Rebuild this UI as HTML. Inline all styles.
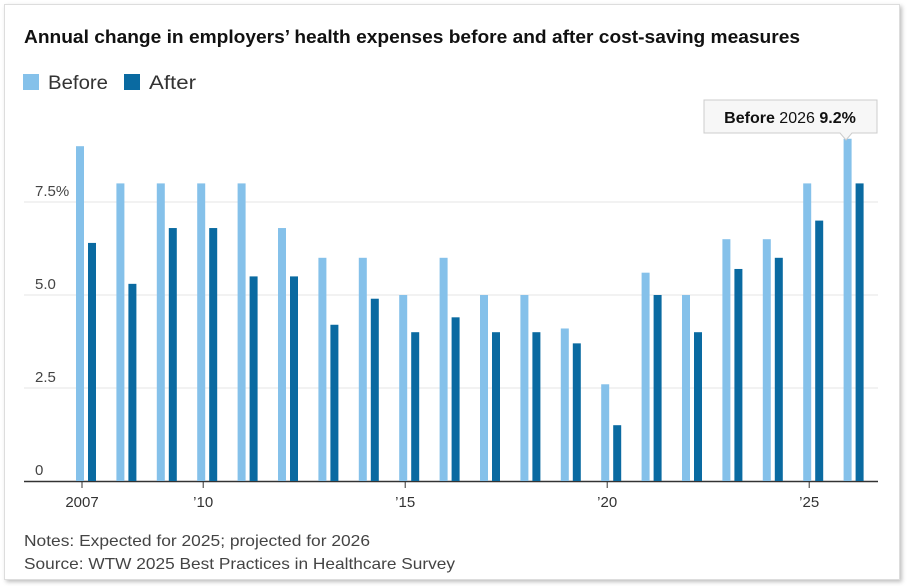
<!DOCTYPE html>
<html><head><meta charset="utf-8"><style>
body{margin:0;width:908px;height:586px;background:#fff;font-family:"Liberation Sans",sans-serif;overflow:hidden}
#frame{position:absolute;left:4px;top:4px;width:894px;height:574px;border:1px solid #ddd;box-shadow:2px 2px 4px rgba(0,0,0,.25);background:#fff}
</style></head><body>
<div id="frame"></div>
<svg id="c" width="908" height="586" style="position:absolute;left:0;top:0">
<text x="24" y="43" font-size="18" font-weight="bold" fill="#111" textLength="776" lengthAdjust="spacingAndGlyphs">Annual change in employers’ health expenses before and after cost-saving measures</text>
<rect x="23" y="74" width="16" height="16" fill="#85c1ea"/>
<text x="48" y="89" font-size="19" fill="#333" textLength="60" lengthAdjust="spacingAndGlyphs">Before</text>
<rect x="124" y="74" width="16" height="16" fill="#0a6aa1"/>
<text x="149" y="89" font-size="19" fill="#333" textLength="47" lengthAdjust="spacingAndGlyphs">After</text>
<g id="grid"></g><g id="bars"></g><g id="xl"></g>
<text x="24" y="546" font-size="16" fill="#444" textLength="346" lengthAdjust="spacingAndGlyphs">Notes: Expected for 2025; projected for 2026</text>
<text x="24" y="569" font-size="16" fill="#444" textLength="431" lengthAdjust="spacingAndGlyphs">Source: WTW 2025 Best Practices in Healthcare Survey</text>
<g>
<path d="M704,100 H877 V133 H852 L846,140 L840,133 H704 Z" fill="#f7f7f7" stroke="#ccc"/>
<text x="790" y="123" font-size="16" text-anchor="middle" fill="#111"><tspan font-weight="bold">Before</tspan> 2026 <tspan font-weight="bold">9.2%</tspan></text>
</g>
</svg>
<script>
const years=[2007,2008,2009,2010,2011,2012,2013,2014,2015,2016,2017,2018,2019,2020,2021,2022,2023,2024,2025,2026];
const before=[9.0,8,8,8,8,6.8,6,6,5,6,5,5,4.1,2.6,5.6,5,6.5,6.5,8,9.2];
const after=[6.4,5.3,6.8,6.8,5.5,5.5,4.2,4.9,4.0,4.4,4.0,4.0,3.7,1.5,5.0,4.0,5.7,6.0,7.0,8.0];
const yTicks=[0,2.5,5.0,7.5];
const yTickLabels=["0","2.5","5.0","7.5%"];
const xTickYears=[2007,2010,2015,2020,2025];
const xTickLabels=["2007","’10","’15","’20","’25"];
const NS="http://www.w3.org/2000/svg";
const y=v=>481-v*37.2;
const x=yr=>80+(yr-2007)*40.4;
function mk(t,a,p){const e=document.createElementNS(NS,t);for(const k in a)e.setAttribute(k,a[k]);p.appendChild(e);return e;}
const g=document.getElementById('grid');
yTicks.forEach((t,i)=>{
 if(t>0){const l=mk('line',{x1:24,x2:878,y1:y(t),y2:y(t),stroke:'#e6e6e6'},g);
 
 }
 const tx=mk('text',{x:35,y:y(t)-6,'font-size':15,fill:'#444'},g);tx.textContent=yTickLabels[i];
 
 
});
const b=document.getElementById('bars');
years.forEach((yr,i)=>{
 const r1=mk('rect',{x:x(yr)-4,y:y(before[i]),width:8,height:481-y(before[i]),fill:'#85c1ea'},b);
 
 
 const r2=mk('rect',{x:x(yr)+8,y:y(after[i]),width:8,height:481-y(after[i]),fill:'#0a6aa1'},b);
 
 
});
const ax=mk('line',{x1:24,x2:878,y1:481.5,y2:481.5,stroke:'#333','stroke-width':1.5},g);


const xl=document.getElementById('xl');
xTickYears.forEach((yr,i)=>{
 const tk=mk('line',{x1:x(yr)+2,x2:x(yr)+2,y1:482,y2:488,stroke:'#333'},xl);
 
 
 const t=mk('text',{x:x(yr)+2,y:507,'font-size':15,fill:'#333','text-anchor':'middle'},xl);t.textContent=xTickLabels[i];
 
 
});
</script>
</body></html>
